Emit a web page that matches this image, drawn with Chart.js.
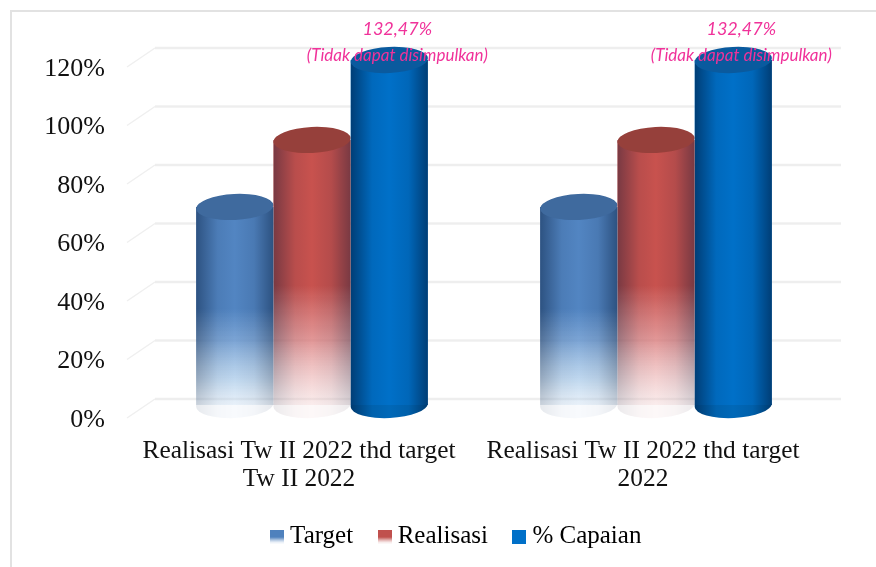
<!DOCTYPE html>
<html>
<head>
<meta charset="utf-8">
<script src="https://cdn.jsdelivr.net/npm/chart.js@4"></script>
<style>
  html, body { margin: 0; padding: 0; background: #fff; overflow: hidden; }
  #wrap { position: absolute; left: 0; top: 0; width: 876px; height: 567px; }
  #frame { position: absolute; left: 10px; top: 10px; width: 880px; height: 570px; border: 2px solid #e2e2e2; box-sizing: border-box; }
</style>
</head>
<body>
<div id="wrap">
  <div id="frame"></div>
  <canvas id="myChart" width="876" height="567" style="position:absolute;left:0;top:0"></canvas>
</div>
<script>
const categories = [
  ["Realisasi Tw II 2022 thd target", "Tw II 2022"],
  ["Realisasi Tw II 2022 thd target", "2022"]
]
const seriesNames = ["Target", "Realisasi", "% Capaian"]
const targetValues = [67.7, 67.7]
const realisasiValues = [90.6, 90.6]
const capaianValues = [132.47, 132.47]
const capaianNote = "(Tidak dapat disimpulkan)"
const capaianLabel = "132,47%"
const yMax = 120
const yStep = 20

const labelFont = "'Liberation Serif', serif"
const capOverflow = 6 // the blue columns stop a little under the top of the axis

// vertical fade, the bottom of the two first columns goes almost white
function fade(chart, solid, stops) {
  const area = chart.chartArea
  if (!area) return solid
  const g = chart.ctx.createLinearGradient(0, area.top, 0, area.bottom + 13)
  g.addColorStop(0, solid)
  stops.forEach(s => g.addColorStop(s[0], s[1]))
  return g
}
const targetFade = [[0.7, "#5285c2"], [0.786, "rgba(100,148,205,0.85)"], [0.895, "rgba(150,190,228,0.6)"], [1, "rgba(215,230,245,0.25)"]]
const realisasiFade = [[0.635, "#c8524e"], [0.786, "rgba(218,125,125,0.8)"], [0.895, "rgba(235,175,175,0.55)"], [1, "rgba(245,215,215,0.25)"]]

const cylinderLook = [
  { top: "#3f6a9e", bottom: "rgba(215,230,245,0.18)", edge: 0.45 },
  { top: "#96403b", bottom: "rgba(245,215,215,0.18)", edge: 0.4 },
  { top: "#0a5a9e", bottom: "#0068b8", edge: 0.55 }
]

// one legend swatch, the two first fade out at the bottom
function swatch(color, faded) {
  const s = document.createElement("canvas")
  s.width = 14
  s.height = 14
  const c = s.getContext("2d")
  const g = c.createLinearGradient(0, 0, 0, 14)
  g.addColorStop(0, color)
  g.addColorStop(faded ? 0.55 : 1, color)
  g.addColorStop(1, faded ? "rgba(255,255,255,0.6)" : color)
  c.fillStyle = g
  c.fillRect(0, 0, 14, 14)
  return s
}
const swatches = [swatch("#4f81bd", true), swatch("#c0504d", true), swatch("#0070c8", false)]

// draws the wall lines from the y scale, behind the columns
const wallPlugin = {
  id: "wall",
  // the legend sits right of the centre in the original
  afterLayout(chart) {
    chart.legend.left += 90
  },
  beforeDatasetsDraw(chart) {
    const c = chart.ctx
    const y = chart.scales.y
    c.save()
    c.strokeStyle = "rgba(0,0,0,0.065)"
    for (let v = 0; v <= yMax; v += yStep) {
      const p = y.getPixelForValue(v)
      c.lineWidth = 2.5
      c.beginPath()
      c.moveTo(155, p - 6)
      c.lineTo(841, p - 6)
      c.stroke()
      c.lineWidth = 1.5
      c.beginPath()
      c.moveTo(127, p + 13)
      c.lineTo(155, p - 6)
      c.stroke()
    }
    c.restore()
  }
}

// turns the library's bars into cylinders: shading, base and top ellipse
const cylinderPlugin = {
  id: "cylinder",
  afterDatasetsDraw(chart) {
    const c = chart.ctx
    const area = chart.chartArea
    const ry = 13
    const tilt = -0.05
    chart.data.datasets.forEach((ds, i) => {
      const look = cylinderLook[i]
      chart.getDatasetMeta(i).data.forEach(bar => {
        const half = bar.width / 2
        const left = bar.x - half
        const yTop = Math.max(bar.y, area.top + capOverflow)
        c.save()
        c.fillStyle = look.bottom
        c.beginPath()
        c.ellipse(bar.x, bar.base, half, ry, tilt, 0, Math.PI)
        c.lineTo(left, bar.base)
        c.lineTo(left + bar.width, bar.base)
        c.closePath()
        c.fill()
        const shade = c.createLinearGradient(left, 0, left + bar.width, 0)
        shade.addColorStop(0, "rgba(0,20,50," + look.edge + ")")
        shade.addColorStop(0.28, "rgba(0,20,50,0.08)")
        shade.addColorStop(0.5, "rgba(0,20,50,0)")
        shade.addColorStop(0.75, "rgba(0,20,50,0.1)")
        shade.addColorStop(1, "rgba(0,20,50," + look.edge + ")")
        c.globalCompositeOperation = "source-atop"
        c.fillStyle = shade
        c.fillRect(left, yTop, bar.width, bar.base + ry - yTop)
        c.globalCompositeOperation = "source-over"
        c.fillStyle = look.top
        c.beginPath()
        c.ellipse(bar.x, yTop, half, ry, tilt, 0, Math.PI * 2)
        c.fill()
        c.restore()
      })
    })
    // note above the blue columns
    c.save()
    c.fillStyle = "#f0329a"
    c.textAlign = "center"
    c.textBaseline = "middle"
    chart.getDatasetMeta(2).data.forEach(bar => {
      c.font = "italic 18px 'Liberation Sans Narrow', Lato"
      c.fillText(capaianLabel, bar.x + 8, 29)
      c.font = "italic 17px Lato"
      c.fillText(capaianNote, bar.x + 8, 56)
    })
    c.restore()
  }
}

new Chart(document.getElementById("myChart"), {
  type: "bar",
  plugins: [wallPlugin, cylinderPlugin],
  data: {
    labels: categories,
    datasets: [
      {
        label: seriesNames[0],
        data: targetValues,
        backgroundColor: ctx => fade(ctx.chart, "#5285c2", targetFade)
      },
      {
        label: seriesNames[1],
        data: realisasiValues,
        backgroundColor: ctx => fade(ctx.chart, "#c8524e", realisasiFade)
      },
      {
        label: seriesNames[2],
        data: capaianValues,
        backgroundColor: "#0070c8",
        clip: { left: false, right: false, bottom: false, top: -capOverflow }
      }
    ]
  },
  options: {
    responsive: false,
    animation: false,
    devicePixelRatio: 1,
    categoryPercentage: 0.674,
    barPercentage: 1,
    layout: { padding: { left: 0, right: 48, top: 54, bottom: 8 } },
    scales: {
      x: {
        afterFit: s => { s.height = 88 },
        grid: { display: false },
        border: { display: false },
        ticks: {
          color: "#111",
          font: { family: labelFont, size: 25.4, lineHeight: 1.1 },
          maxRotation: 0,
          autoSkip: false,
          labelOffset: -13,
          padding: 24
        }
      },
      y: {
        min: 0,
        max: yMax,
        afterFit: s => { s.width = 140 },
        grid: { display: false, drawTicks: false },
        border: { display: false },
        ticks: {
          stepSize: yStep,
          color: "#111",
          font: { family: labelFont, size: 26 },
          padding: 35,
          labelOffset: 15,
          callback: v => v + "%"
        }
      }
    },
    plugins: {
      tooltip: { enabled: false },
      legend: {
        position: "bottom",
        labels: {
          color: "#111",
          font: { family: labelFont, size: 25 },
          usePointStyle: true,
          pointStyleWidth: 1,
          padding: 31,
          generateLabels(chart) {
            return chart.data.datasets.map((ds, i) => ({
              text: ds.label,
              pointStyle: swatches[i],
              datasetIndex: i
            }))
          }
        }
      }
    }
  }
})
</script>
</body>
</html>
